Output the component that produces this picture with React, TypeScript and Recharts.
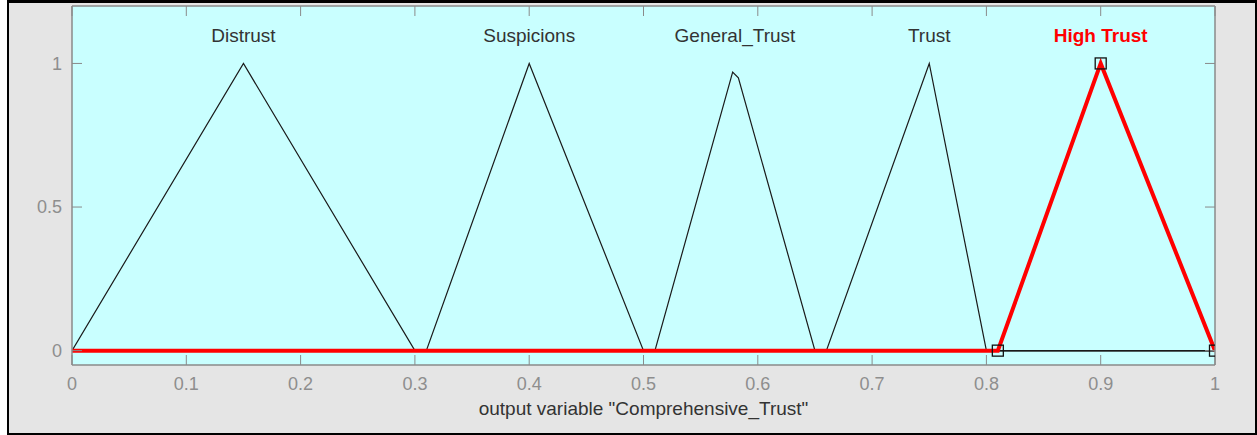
import { ComposedChart, Line, Scatter, XAxis, YAxis, Label, CartesianGrid } from 'recharts';

// axis ticks
const xTicks = [0, 0.1, 0.2, 0.3, 0.4, 0.5, 0.6, 0.7, 0.8, 0.9, 1];
const yTicks = [0, 0.5, 1];

// membership functions of the output variable (x, degree)
const distrust = [
  { x: 0, y: 0 },
  { x: 0.15, y: 1 },
  { x: 0.3, y: 0 },
  { x: 1, y: 0 },
];
const suspicions = [
  { x: 0, y: 0 },
  { x: 0.31, y: 0 },
  { x: 0.4, y: 1 },
  { x: 0.5, y: 0 },
  { x: 1, y: 0 },
];
const generalTrust = [
  { x: 0, y: 0 },
  { x: 0.51, y: 0 },
  { x: 0.578, y: 0.97 },
  { x: 0.583, y: 0.95 },
  { x: 0.65, y: 0 },
  { x: 1, y: 0 },
];
const trust = [
  { x: 0, y: 0 },
  { x: 0.66, y: 0 },
  { x: 0.75, y: 1 },
  { x: 0.8, y: 0 },
  { x: 1, y: 0 },
];
const highTrust = [
  { x: 0, y: 0 },
  { x: 0.81, y: 0 },
  { x: 0.9, y: 1 },
  { x: 1, y: 0 },
];

// parameter points of the selected function
const highTrustParams = [
  { x: 0.81, y: 0 },
  { x: 0.9, y: 1 },
  { x: 1, y: 0 },
];

const mfNames = ['Distrust', 'Suspicions', 'General_Trust', 'Trust', 'High Trust'];
const mfCenters = [0.15, 0.4, 0.58, 0.75, 0.9];
const selectedMf = 'High Trust';

const LABEL_Y = 1.1;
const mfLabels = mfNames.map((name, i) => ({ x: mfCenters[i], y: LABEL_Y, name }));

const FONT = '"Liberation Sans", Arial, Helvetica, sans-serif';
const TICK_COLOR = '#8e8e8e';
const FRAME = '#8a8a8a';

const MfLabel = (props: any) => {
  const { cx, cy, payload } = props;
  const active = payload.name === selectedMf;
  return (
    <text
      x={cx}
      y={cy}
      dy="0.4em"
      textAnchor="middle"
      fontFamily={FONT}
      fontSize={19}
      fontWeight={active ? 'bold' : 'normal'}
      fill={active ? '#ff0000' : '#333333'}
    >
      {payload.name}
    </text>
  );
};

const ParamSquare = (props: any) => {
  const { cx, cy } = props;
  return <rect x={cx - 5.5} y={cy - 5.5} width={11} height={11} fill="none" stroke="#111" strokeWidth={1.3} />;
};

export default function App() {
  const blackLine = { type: 'linear' as const, dataKey: 'y', stroke: '#1a1a1a', strokeWidth: 1.2, dot: false, activeDot: false, isAnimationActive: false };

  return (
    <div style={{ position: 'absolute', left: 0, top: 0, width: 1257, height: 435, background: '#fff' }}>
      <div
        style={{
          position: 'absolute',
          left: 7,
          top: 0,
          width: 1250,
          height: 435,
          boxSizing: 'border-box',
          border: '2px solid #000',
          borderTop: '3px solid #000',
          background: '#e5e5e5',
        }}
      />
      <div style={{ position: 'absolute', left: 0, top: 0 }}>
        <ComposedChart width={1257} height={435} margin={{ top: 0, right: 0, bottom: 0, left: 0 }} style={{ fontFamily: FONT }}>
          {/* cyan plot background, no grid lines */}
          <CartesianGrid horizontal={false} vertical={false} fill="#c9ffff" fillOpacity={1} />
          <XAxis
            xAxisId={0}
            dataKey="x"
            type="number"
            domain={[0, 1]}
            ticks={xTicks}
            allowDataOverflow
            height={70}
            tickSize={-10}
            tickMargin={22}
            axisLine={{ stroke: FRAME, strokeWidth: 1.5 }}
            tickLine={{ stroke: FRAME }}
            tick={{ fill: TICK_COLOR, fontSize: 18 }}
          >
            <Label value={'output variable "Comprehensive_Trust"'} position="insideBottom" offset={20} fill="#333333" fontSize={19} />
          </XAxis>
          <XAxis
            xAxisId="top"
            orientation="top"
            dataKey="x"
            type="number"
            domain={[0, 1]}
            ticks={xTicks}
            allowDataOverflow
            height={6}
            tickSize={-10}
            tickFormatter={() => ''}
            axisLine={{ stroke: FRAME, strokeWidth: 1.5 }}
            tickLine={{ stroke: FRAME }}
          />
          <YAxis
            yAxisId={0}
            type="number"
            domain={[-0.05, 1.2]}
            ticks={yTicks}
            allowDataOverflow
            width={72}
            tickSize={-10}
            tickMargin={20}
            axisLine={{ stroke: FRAME, strokeWidth: 1.5 }}
            tickLine={{ stroke: FRAME }}
            tick={{ fill: TICK_COLOR, fontSize: 18 }}
          />
          <YAxis
            yAxisId="right"
            orientation="right"
            type="number"
            domain={[-0.05, 1.2]}
            ticks={yTicks}
            allowDataOverflow
            width={42}
            tickSize={-10}
            tickFormatter={() => ''}
            axisLine={{ stroke: FRAME, strokeWidth: 1.5 }}
            tickLine={{ stroke: FRAME }}
          />

          <Line data={distrust} {...blackLine} />
          <Line data={suspicions} {...blackLine} />
          <Line data={generalTrust} {...blackLine} />
          <Line data={trust} {...blackLine} />
          <Line data={highTrust} type="linear" dataKey="y" stroke="#ff0000" strokeWidth={4} dot={false} activeDot={false} isAnimationActive={false} />

          <Scatter data={highTrustParams} dataKey="y" shape={<ParamSquare />} isAnimationActive={false} />
          <Scatter data={mfLabels} dataKey="y" shape={<MfLabel />} isAnimationActive={false} />
        </ComposedChart>
      </div>
    </div>
  );
}
